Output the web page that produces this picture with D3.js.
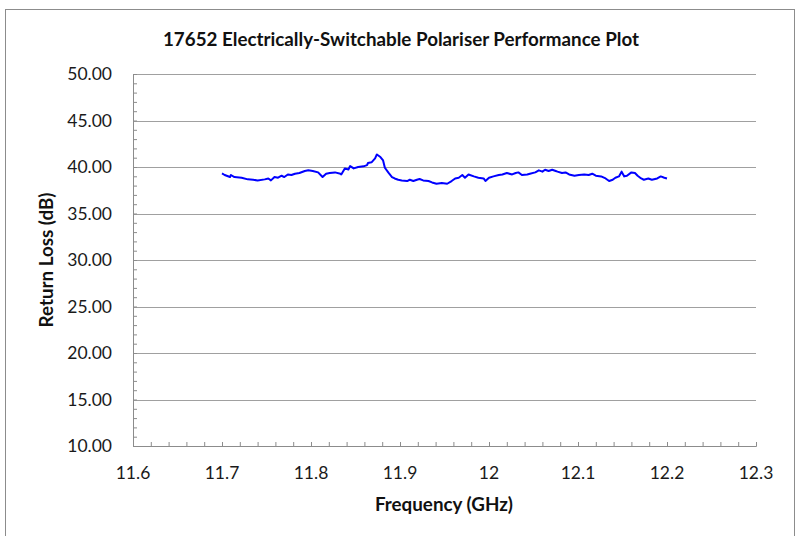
<!DOCTYPE html>
<html>
<head>
<meta charset="utf-8">
<script src="https://cdn.jsdelivr.net/npm/d3@7"></script>
<style>
  body { margin: 0; background: #fff; }
  text { font-family: Lato, "Open Sans", "Liberation Sans", sans-serif; }
</style>
</head>
<body>
<div id="chart"></div>
<script>
// frequency (GHz)
const freq = [11.700, 11.703, 11.709, 11.710, 11.714, 11.722, 11.729, 11.735, 11.740, 11.748,
  11.752, 11.755, 11.759, 11.763, 11.767, 11.770, 11.774, 11.778, 11.782, 11.787,
  11.793, 11.797, 11.802, 11.808, 11.813, 11.817, 11.821, 11.827, 11.833, 11.834,
  11.838, 11.842, 11.844, 11.848, 11.853, 11.859, 11.863, 11.864, 11.868, 11.872,
  11.874, 11.878, 11.881, 11.883, 11.887, 11.891, 11.894, 11.898, 11.902, 11.908,
  11.911, 11.915, 11.919, 11.922, 11.926, 11.932, 11.936, 11.941, 11.947, 11.953,
  11.958, 11.962, 11.966, 11.970, 11.973, 11.977, 11.983, 11.988, 11.994, 11.996,
  12.000, 12.005, 12.011, 12.015, 12.020, 12.026, 12.030, 12.033, 12.037, 12.043,
  12.046, 12.052, 12.056, 12.060, 12.063, 12.067, 12.071, 12.075, 12.077, 12.082,
  12.086, 12.090, 12.096, 12.101, 12.107, 12.112, 12.116, 12.120, 12.126, 12.131,
  12.135, 12.139, 12.142, 12.146, 12.149, 12.152, 12.155, 12.160, 12.164, 12.167,
  12.171, 12.174, 12.179, 12.183, 12.189, 12.193, 12.197, 12.200];

// return loss (dB)
const returnLoss = [39.31, 39.14, 38.92, 39.14, 38.92, 38.85, 38.67, 38.63, 38.56, 38.67,
  38.77, 38.56, 38.92, 38.85, 39.06, 38.92, 39.20, 39.14, 39.28, 39.35,
  39.57, 39.64, 39.57, 39.42, 38.92, 39.28, 39.35, 39.42, 39.28, 39.20,
  39.85, 39.74, 40.10, 39.85, 40.00, 40.07, 40.20, 40.43, 40.50, 40.92,
  41.35, 41.07, 40.71, 39.92, 39.39, 38.92, 38.77, 38.63, 38.56, 38.49,
  38.63, 38.49, 38.63, 38.71, 38.56, 38.49, 38.34, 38.20, 38.27, 38.20,
  38.49, 38.77, 38.85, 39.14, 38.85, 39.20, 38.99, 38.85, 38.77, 38.49,
  38.85, 38.99, 39.14, 39.20, 39.35, 39.20, 39.35, 39.42, 39.14, 39.20,
  39.28, 39.42, 39.64, 39.50, 39.71, 39.57, 39.71, 39.57, 39.50, 39.35,
  39.42, 39.20, 39.06, 39.14, 39.20, 39.14, 39.28, 39.06, 38.99, 38.77,
  38.49, 38.63, 38.85, 38.99, 39.50, 38.99, 39.06, 39.42, 39.35, 39.06,
  38.77, 38.63, 38.77, 38.63, 38.77, 38.99, 38.85, 38.77];

const xTicks = [11.6, 11.7, 11.8, 11.9, 12, 12.1, 12.2, 12.3];
const yTicks = [10, 15, 20, 25, 30, 35, 40, 45, 50];

const W = 797, H = 536;
const margin = {top: 74, right: 41, bottom: 90, left: 133};
const plotW = W - margin.left - margin.right;
const plotH = H - margin.top - margin.bottom;

const svg = d3.select("#chart").append("svg")
  .attr("width", W)
  .attr("height", H);

// outer chart frame
svg.append("rect")
  .attr("x", 5.5).attr("y", 9.5)
  .attr("width", 789).attr("height", 540)
  .attr("fill", "none")
  .attr("stroke", "#8c8c8c")
  .attr("stroke-width", 1);

const g = svg.append("g")
  .attr("transform", `translate(${margin.left},${margin.top})`);

const x = d3.scaleLinear().domain([11.6, 12.3]).range([0, plotW]);
const y = d3.scaleLinear().domain([10, 50]).range([plotH, 0]);

// horizontal gridlines
g.selectAll(".grid")
  .data(yTicks.filter(d => d > 10))
  .enter().append("line")
  .attr("x1", 0).attr("x2", plotW)
  .attr("y1", d => Math.round(y(d)) + 0.5)
  .attr("y2", d => Math.round(y(d)) + 0.5)
  .attr("stroke", "#a0a0a0")
  .attr("stroke-width", 1);

// minor ticks (inside)
const yMinor = d3.range(10, 50.01, 1);
const xMinor = d3.range(0, 36).map(i => 11.6 + i * 0.02);

const yAxis = g.append("g")
  .call(d3.axisLeft(y).tickValues(yMinor).tickSize(-4).tickFormat(""));
const xAxis = g.append("g")
  .attr("transform", `translate(0,${plotH})`)
  .call(d3.axisBottom(x).tickValues(xMinor).tickSize(-4).tickFormat(""));

[yAxis, xAxis].forEach(a => {
  a.select(".domain").attr("stroke", "#8c8c8c");
  a.selectAll(".tick line").attr("stroke", "#8c8c8c");
});

// tick labels
g.selectAll(".ylab")
  .data(yTicks)
  .enter().append("text")
  .attr("x", -21)
  .attr("y", d => y(d) + 6)
  .attr("text-anchor", "end")
  .attr("font-size", 17.5)
  .attr("fill", "#1a1a1a")
  .text(d => d3.format(".2f")(d));

g.selectAll(".xlab")
  .data(xTicks)
  .enter().append("text")
  .attr("x", d => x(d))
  .attr("y", plotH + 33)
  .attr("text-anchor", "middle")
  .attr("font-size", 17.5)
  .attr("fill", "#1a1a1a")
  .text(d => String(d));

// the trace
const pts = freq.map((f, i) => ({f: f, v: returnLoss[i]}));
g.append("path")
  .datum(pts)
  .attr("fill", "none")
  .attr("stroke", "#0000ff")
  .attr("stroke-width", 2)
  .attr("stroke-linejoin", "round")
  .attr("d", d3.line().x(d => x(d.f)).y(d => y(d.v)));

// title and axis titles
svg.append("text")
  .attr("x", 401).attr("y", 46)
  .attr("text-anchor", "middle")
  .attr("font-size", 18.8)
  .attr("font-weight", "bold")
  .attr("fill", "#111")
  .text("17652 Electrically-Switchable Polariser Performance Plot");

svg.append("text")
  .attr("x", 444)
  .attr("y", 511)
  .attr("text-anchor", "middle")
  .attr("font-size", 18.8)
  .attr("font-weight", "bold")
  .attr("fill", "#111")
  .text("Frequency (GHz)");

svg.append("text")
  .attr("transform", `translate(53,${margin.top + plotH / 2}) rotate(-90)`)
  .attr("text-anchor", "middle")
  .attr("font-size", 18.8)
  .attr("font-weight", "bold")
  .attr("fill", "#111")
  .text("Return Loss (dB)");
</script>
</body>
</html>
